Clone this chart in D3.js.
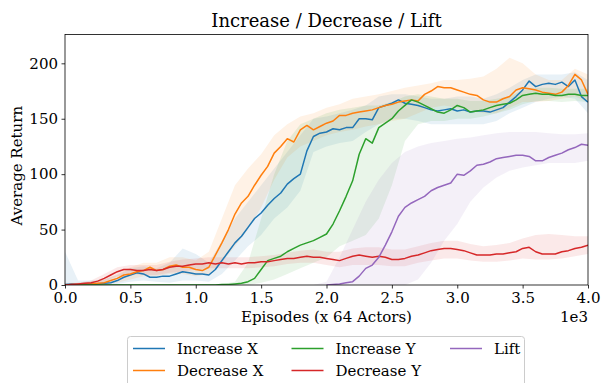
<!DOCTYPE html>
<html>
<head>
<meta charset="utf-8">
<script src="https://cdn.jsdelivr.net/npm/d3@7"></script>
<style>
  body { margin: 0; background: #fff; }
  svg, svg text { font-family: "DejaVu Serif", serif; fill: #000; }
</style>
</head>
<body>
<script>
// Mean returns, one value every 50 episodes from 0 to 4000
const increaseX = [0.5,1,0.5,0.5,1,1,1.5,2,4,7,9,11,10,7,7,8,8,10,12,11,10,
  10,9,14,22,30,38,44,52,60,65,72,78,83,91,96,100,121,134,137,138,
  141,140,142,142,150,150,149,160,162,164,167,164,163,162,160,158,157,158,159,157,
  158,156,157,157,156,158,160,165,170,176,184,179,181,182,181,183,179,185,170,165];
const decreaseX = [0,0.5,0.5,1,1,1.5,2,4,6,9,10,12,13,16,13,14,17,18,16,16,14,
  13,16,27,38,50,64,74,80,90,99,107,119,125,132,129,140,144,140,143,146,
  148,153,153,155,156,157,158,160,162,163,165,166,167,166,172,175,179,178,178,176,
  174,172,171,167,165,165,168,170,176,178,177,176,174,173,172,174,180,190,185,172];
const increaseY = [0,0,0,0,0,0,0,0,0,0,0,0,0,0,0,0,0,0,0,0,0,
  0,0,0,0.5,0.5,1,1.5,3,6,14,22,24,26,30,33,36,38,40,43,46,
  55,67,80,94,118,132,128,142,146,150,157,162,167,165,162,159,156,155,158,162,
  160,156,157,158,160,162,163,164,167,171,172,173,172,172,171,171,172,172,171,171];
const decreaseY = [0,0.5,1,1.5,2,3.5,6,9,12,14,14,13,13,14,13,14,16,17,17,18,19,
  19,20,19,20,19,20,19,20,20,21,21,22,23,24,24,25,26,25,25,24,
  23,22,24,26,27,26,25,26,25,23,23,24,26,27,29,31,32,33,33,32,
  31,29,27,27,27,28,28,29,30,33,34,30,28,28,28,30,31,33,34,36];
const lift = [null,null,null,null,null,null,null,null,null,null,null,null,null,null,null,null,null,null,null,null,null,
  null,null,null,null,null,null,null,null,null,null,null,null,null,null,null,null,null,null,null,0,
  0.5,1,2,3,8,15,18,25,36,48,62,70,74,77,80,85,88,90,92,100,
  99,103,108,109,111,114,115,116,117,117,116,112,112,115,117,119,122,124,127,126];

// Spread bands, one value every 100 episodes from 0 to 4000
const increaseXLow = [0,0,0,0,1,3,4,3,2,4,4,3,10,22,35,45,60,70,85,120,125,
  128,130,138,145,150,150,148,145,145,145,145,145,148,155,160,165,168,170,168,155];
const increaseXHigh = [30,4,4,5,9,15,17,15,20,33,28,20,40,60,75,90,105,120,135,150,152,
  155,158,162,170,172,172,170,168,168,170,170,168,172,178,185,190,190,190,192,185];
const decreaseXLow = [0,0,0,0,2,5,8,8,10,10,8,10,20,35,50,70,95,115,125,130,135,
  138,140,143,145,148,150,155,160,162,160,158,155,155,160,165,165,166,168,170,165];
const decreaseXHigh = [2,2,3,5,10,16,20,20,25,25,22,30,60,90,105,118,135,145,152,155,160,
  163,168,170,172,175,178,180,182,185,185,186,188,195,205,200,190,185,185,195,190];
const increaseYLow = [0,0,0,0,0,0,0,0,0,0,0,0,0,0,0,2,5,10,15,20,25,
  35,40,45,60,90,130,145,148,148,150,150,152,155,158,163,166,166,165,166,165];
const increaseYHigh = [1,1,1,1,1,1,1,1,1,1,1,1,1,3,20,60,100,130,145,150,155,
  158,160,162,162,165,170,172,170,168,168,166,166,168,170,176,178,178,177,177,177];
const decreaseYLow = [0,0,0,3,8,10,9,9,11,12,14,15,15,15,15,16,17,19,20,20,18,
  16,18,18,18,17,17,20,22,24,24,22,21,21,22,24,23,23,24,26,28];
const decreaseYHigh = [1,2,4,10,16,18,18,18,21,23,24,25,25,25,25,26,27,29,31,32,30,
  30,33,34,34,32,32,35,38,40,40,37,35,36,38,42,45,46,45,44,44];
const liftLow = [null,null,null,null,null,null,null,null,null,null,null,null,null,null,null,null,null,null,null,0,0,
  0,0,0,0,0,0,5,20,40,55,75,88,97,103,106,108,110,110,110,112];
const liftHigh = [null,null,null,null,null,null,null,null,null,null,null,null,null,null,null,null,null,null,null,0,3,
  25,50,75,95,110,120,125,128,130,132,133,135,137,138,138,138,137,136,136,137];

const seriesNames = ["Increase X", "Decrease X", "Increase Y", "Decrease Y", "Lift"];
const seriesColors = ["#1f77b4", "#ff7f0e", "#2ca02c", "#d62728", "#9467bd"];
const xTicks = [0, 500, 1000, 1500, 2000, 2500, 3000, 3500, 4000];
const yTicks = [0, 50, 100, 150, 200];

const lineEpisodes = d3.range(0, 4001, 50);
const bandEpisodes = d3.range(0, 4001, 100);

const series = [
  { name: seriesNames[0], color: seriesColors[0], values: increaseX, low: increaseXLow, high: increaseXHigh },
  { name: seriesNames[1], color: seriesColors[1], values: decreaseX, low: decreaseXLow, high: decreaseXHigh },
  { name: seriesNames[2], color: seriesColors[2], values: increaseY, low: increaseYLow, high: increaseYHigh },
  { name: seriesNames[3], color: seriesColors[3], values: decreaseY, low: decreaseYLow, high: decreaseYHigh },
  { name: seriesNames[4], color: seriesColors[4], values: lift, low: liftLow, high: liftHigh }
];

const FONT = "DejaVu Serif, serif";
const svgWidth = 602, svgHeight = 383;
const margin = { top: 34.5, right: 14, bottom: 98, left: 65 };
const width = svgWidth - margin.left - margin.right;
const height = svgHeight - margin.top - margin.bottom;

const x = d3.scaleLinear().domain([0, 4000]).range([0, width]);
const y = d3.scaleLinear().domain([0, 226]).range([height, 0]);

const svg = d3.select("body").append("svg")
  .attr("width", svgWidth)
  .attr("height", svgHeight)
  .style("font-family", FONT);

svg.append("defs").append("clipPath").attr("id", "plot-clip")
  .append("rect").attr("width", width).attr("height", height);

const g = svg.append("g")
  .attr("transform", `translate(${margin.left},${margin.top})`);

const plot = g.append("g").attr("clip-path", "url(#plot-clip)");

// Shaded spread bands
const area = d3.area()
  .defined(d => d.low != null)
  .x(d => x(d.ep))
  .y0(d => y(d.low))
  .y1(d => y(d.high));

series.forEach(s => {
  const pts = bandEpisodes.map((ep, i) => ({ ep, low: s.low[i], high: s.high[i] }));
  plot.append("path")
    .datum(pts)
    .attr("fill", s.color)
    .attr("fill-opacity", 0.1)
    .attr("d", area);
});

// Mean lines
const line = d3.line()
  .defined(d => d.v != null)
  .x(d => x(d.ep))
  .y(d => y(d.v));

series.forEach(s => {
  const pts = lineEpisodes.map((ep, i) => ({ ep, v: s.values[i] }));
  plot.append("path")
    .datum(pts)
    .attr("fill", "none")
    .attr("stroke", s.color)
    .attr("stroke-width", 1.5)
    .attr("stroke-linejoin", "round")
    .attr("d", line);
});

// Axes
const gx = g.append("g")
  .attr("transform", `translate(0,${height})`)
  .call(d3.axisBottom(x).tickValues(xTicks).tickSize(3.5).tickPadding(3.5)
    .tickFormat(d => (d / 1000).toFixed(1)));

const gy = g.append("g")
  .call(d3.axisLeft(y).tickValues(yTicks).tickSize(3.5).tickPadding(3.5));

[gx, gy].forEach(a => {
  a.attr("font-family", FONT).attr("font-size", 15);
  a.select(".domain").remove();
  a.selectAll(".tick line").attr("stroke", "#000").attr("stroke-width", 0.8);
  a.selectAll(".tick text").style("font-family", FONT).style("font-size", "15px");
});

// Frame
g.append("rect")
  .attr("width", width)
  .attr("height", height)
  .attr("fill", "none")
  .attr("stroke", "#000")
  .attr("stroke-width", 0.8);

// Labels
svg.append("text")
  .attr("x", margin.left + width / 2)
  .attr("y", 27)
  .attr("text-anchor", "middle")
  .style("font-family", FONT)
  .style("font-size", "18px")
  .text("Increase / Decrease / Lift");

svg.append("text")
  .attr("x", margin.left + width / 2)
  .attr("y", 322)
  .attr("text-anchor", "middle")
  .style("font-family", FONT)
  .style("font-size", "15px")
  .text("Episodes (x 64 Actors)");

svg.append("text")
  .attr("x", margin.left + width)
  .attr("y", 322)
  .attr("text-anchor", "end")
  .style("font-family", FONT)
  .style("font-size", "15px")
  .text("1e3");

svg.append("text")
  .attr("transform", `translate(22,${margin.top + height / 2 + 6}) rotate(-90)`)
  .attr("text-anchor", "middle")
  .style("font-family", FONT)
  .style("font-size", "15px")
  .text("Average Return");

// Legend
const legend = svg.append("g");
legend.append("rect")
  .attr("x", 127.5)
  .attr("y", 336.5)
  .attr("width", 397)
  .attr("height", 70)
  .attr("rx", 3)
  .attr("fill", "#fff")
  .attr("fill-opacity", 0.8)
  .attr("stroke", "#ccc")
  .attr("stroke-width", 1);

const colX = [133, 291.5, 450];
const rowY = [348.5, 370.5];
series.forEach((s, i) => {
  const col = Math.floor(i / 2), row = i % 2;
  const lx = colX[col], ly = rowY[row];
  legend.append("line")
    .attr("x1", lx).attr("x2", lx + 32)
    .attr("y1", ly).attr("y2", ly)
    .attr("stroke", s.color)
    .attr("stroke-width", 1.5);
  legend.append("text")
    .attr("x", lx + 44)
    .attr("y", ly + 5)
    .style("font-family", FONT)
    .style("font-size", "15px")
    .text(s.name);
});
</script>
</body>
</html>
